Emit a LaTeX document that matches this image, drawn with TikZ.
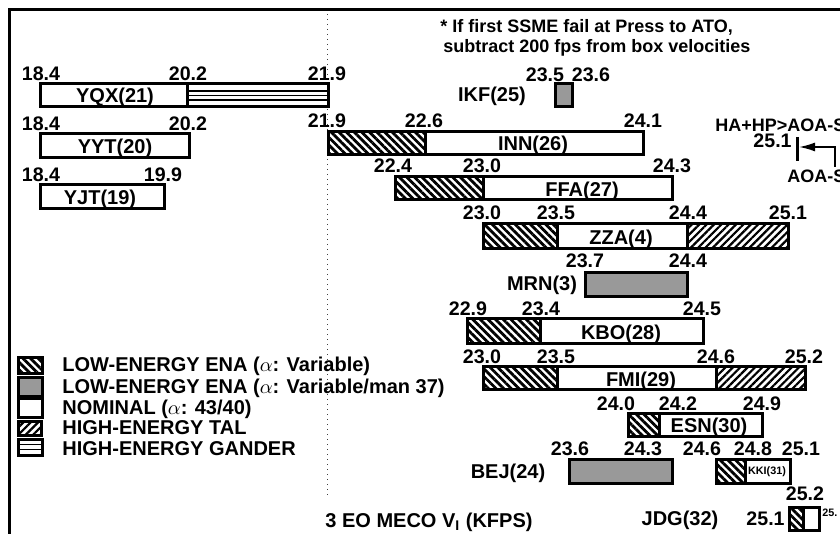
\documentclass[tikz,border=0pt]{standalone}
\usepackage{fontspec}
\setmainfont{Liberation Sans}
\usetikzlibrary{patterns.meta, arrows.meta}
\definecolor{mangray}{gray}{0.6}
\tikzset{
    val/.style={anchor=base, inner sep=0pt, font=\fontsize{9.8}{11}\selectfont\bfseries},
    tag/.style={anchor=base, inner sep=0pt, font=\fontsize{10}{12}\selectfont\bfseries},
    minival/.style={anchor=base, inner sep=0pt, font=\fontsize{5.4}{6}\selectfont\bfseries},
    note/.style={anchor=base west, inner sep=0pt, font=\fontsize{9}{10}\selectfont\bfseries},
    aoa/.style={anchor=base west, inner sep=0pt, font=\fontsize{9}{10}\selectfont\bfseries},
    bar/.style={draw, line width=1.5pt},
    ena/.style={pattern={Lines[angle=-45, distance=2.7pt, line width=1.4pt]}},
    tal/.style={pattern={Lines[angle=45, distance=2.6pt, line width=1.1pt]}},
    man/.style={fill=mangray},
    gander/.style={line width=0.9pt},
}
\begin{document}
\begin{tikzpicture}[x=0.5pt, y=-0.5pt]
        \clip (0,0) rectangle (840,534);
        \fill[white] (0,0) rectangle (840,534);
        \draw[line width=1.5pt] (9,560) -- (9,10) -- (860,10);
        \draw[dotted, line width=0.5pt, black!75] (327,14) -- (327,497);
        \node[note] (notea) at (440,33) {* If first SSME fail at Press to ATO,};
        \node[note] (noteb) at (443,53) {subtract 200 fps from box velocities};
        % left side
        \draw[bar] (40,84) rectangle (328,107);
        \draw[gander] (187,91) -- (328,91) (187,95.5) -- (328,95.5) (187,100) -- (328,100);
        \draw[bar] (187,84) -- (187,107);
        \node[val] (yqxa) at (41,81) {18.4};
        \node[val] (yqxb) at (188,81) {20.2};
        \node[val] (yqxc) at (327,81) {21.9};
        \node[tag] (yqx) at (115,103) {YQX(21)};
        \draw[bar] (40,134) rectangle (189,158);
        \node[val] (yyta) at (41,131) {18.4};
        \node[val] (yytb) at (188,131) {20.2};
        \node[tag] (yyt) at (115,154) {YYT(20)};
        \draw[bar] (40,185) rectangle (164,209);
        \node[val] (yjta) at (41,182) {18.4};
        \node[val] (yjtb) at (163,182) {19.9};
        \node[tag] (yjt) at (100,205) {YJT(19)};
        % right side
        \draw[bar, man] (555,84) rectangle (572,107);
        \node[val] (ikfa) at (545,82) {23.5};
        \node[val] (ikfb) at (591,82) {23.6};
        \node[tag] (ikf) at (492,102) {IKF(25)};
        \path[ena] (328,132) rectangle (425,155);
        \draw[bar] (328,132) rectangle (643,155);
        \draw[bar] (425,132) -- (425,155);
        \node[val] (inna) at (327,128) {21.9};
        \node[val] (innb) at (424,128) {22.6};
        \node[val] (innc) at (643,128) {24.1};
        \node[tag] (inn) at (533,151) {INN(26)};
        \path[ena] (395,177) rectangle (483,200);
        \draw[bar] (395,177) rectangle (672,200);
        \draw[bar] (483,177) -- (483,200);
        \node[val] (ffaa) at (393,173) {22.4};
        \node[val] (ffab) at (482,173) {23.0};
        \node[val] (ffac) at (672,173) {24.3};
        \node[tag] (ffa) at (582,197) {FFA(27)};
        \path[ena] (483,224) rectangle (557,249);
        \path[tal] (687,224) rectangle (788,249);
        \draw[bar] (483,224) rectangle (788,249);
        \draw[bar] (557,224) -- (557,249) (687,224) -- (687,249);
        \node[val] (zzaa) at (482,220) {23.0};
        \node[val] (zzab) at (556,220) {23.5};
        \node[val] (zzac) at (688,220) {24.4};
        \node[val] (zzad) at (788,220) {25.1};
        \node[tag] (zza) at (621,245) {ZZA(4)};
        \draw[bar, man] (585,272) rectangle (687,296);
        \node[val] (mrna) at (585,268) {23.7};
        \node[val] (mrnb) at (688,268) {24.4};
        \node[tag] (mrn) at (542,290) {MRN(3)};
        \path[ena] (467,318) rectangle (540,343);
        \draw[bar] (467,318) rectangle (703,343);
        \draw[bar] (540,318) -- (540,343);
        \node[val] (kboa) at (468,315) {22.9};
        \node[val] (kbob) at (541,315) {23.4};
        \node[val] (kboc) at (702,315) {24.5};
        \node[tag] (kbo) at (621,339) {KBO(28)};
        \path[ena] (483,366) rectangle (557,389);
        \path[tal] (716,366) rectangle (805,389);
        \draw[bar] (483,366) rectangle (805,389);
        \draw[bar] (557,366) -- (557,389) (716,366) -- (716,389);
        \node[val] (fmia) at (482,363) {23.0};
        \node[val] (fmib) at (556,363) {23.5};
        \node[val] (fmic) at (716,363) {24.6};
        \node[val] (fmid) at (804,363) {25.2};
        \node[tag] (fmi) at (641,386) {FMI(29)};
        \path[ena] (628,413) rectangle (659,436);
        \draw[bar] (628,413) rectangle (762,436);
        \draw[bar] (659,413) -- (659,436);
        \node[val] (esna) at (616,410) {24.0};
        \node[val] (esnb) at (678,410) {24.2};
        \node[val] (esnc) at (762,410) {24.9};
        \node[tag] (esn) at (709,432) {ESN(30)};
        \draw[bar, man] (569,459) rectangle (672,483);
        \node[val] (beja) at (570,455) {23.6};
        \node[val] (bejb) at (643,455) {24.3};
        \node[tag] (bej) at (508,478) {BEJ(24)};
        \path[ena] (716,459) rectangle (745,483);
        \draw[bar] (716,459) rectangle (790,483);
        \draw[bar] (745,459) -- (745,483);
        \node[val] (kkia) at (702,455) {24.6};
        \node[val] (kkib) at (753,455) {24.8};
        \node[val] (kkic) at (801,455) {25.1};
        \node[minival] (kki) at (767,474) {KKI(31)};
        \path[ena] (789,507) rectangle (803,530);
        \draw[bar] (789,507) rectangle (819,530);
        \draw[bar] (803,507) -- (803,530);
        \node[val] (jdga) at (805,500) {25.2};
        \node[val, anchor=base east] (jdgb) at (785,525) {25.1};
        \node[minival, anchor=base west] (jdgc) at (822,516) {25.};
        \node[tag] (jdg) at (680,525) {JDG(32)};
        \node[tag, anchor=base west] (meco) at (325,527) {3 EO MECO V\textsubscript{I} (KFPS)};
        % AOA-S marker
        \node[aoa] (hahp) at (715,132) {HA+HP>AOA-S};
        \node[val, anchor=base east] (aoav) at (792,148) {25.1};
        \node[aoa] (aoas) at (787,183) {AOA-S};
        \draw[line width=1.5pt] (797,137) -- (797,161);
        \coordinate (aoatick) at (799,147);
        \coordinate (aoastem) at (835,167);
        \draw[-{Latex[length=8pt, width=4.5pt]}, line width=0.9pt] (aoastem) |- (aoatick);
        % legend
        \path[ena] (18,357) rectangle (42,373);
        \draw[bar] (18,357) rectangle (42,373);
        \draw[bar, man] (18,377) rectangle (42,396);
        \draw[bar] (18,398) rectangle (42,417);
        \path[tal] (18,421) rectangle (41,435);
        \draw[bar] (18,421) rectangle (41,435);
        \draw[gander] (18,444.5) -- (42,444.5) (18,449.5) -- (42,449.5);
        \draw[bar] (18,439) rectangle (42,455);
        \node[tag, anchor=base west] (lega) at (62,371) {LOW-ENERGY ENA ($\alpha$: Variable)};
        \node[tag, anchor=base west] (legb) at (62,393) {LOW-ENERGY ENA ($\alpha$: Variable/man 37)};
        \node[tag, anchor=base west] (legc) at (62,414) {NOMINAL ($\alpha$: 43/40)};
        \node[tag, anchor=base west] (legd) at (62,434) {HIGH-ENERGY TAL};
        \node[tag, anchor=base west] (lege) at (62,455) {HIGH-ENERGY GANDER};
    \end{tikzpicture}
\end{document}
